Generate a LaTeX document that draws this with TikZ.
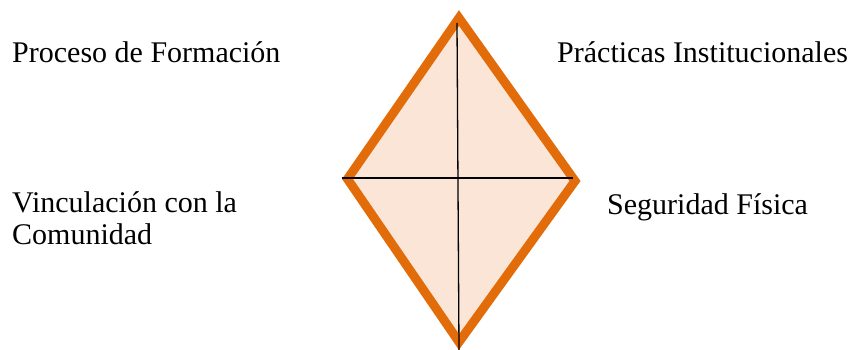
\documentclass[tikz,border=0pt]{standalone}
\usepackage{fontspec}
\setmainfont{Liberation Serif}
\usepackage{tikz}
\usetikzlibrary{positioning}
\definecolor{kiteorange}{HTML}{E36C0A}
\definecolor{kitepeach}{HTML}{FBE5D6}
\tikzset{
  labeltext/.style={anchor=base west, inner sep=0pt, align=left,
                    font=\fontsize{30}{32}\selectfont},
  kite/.style={draw=kiteorange, fill=kitepeach, line width=9pt, line join=miter},
  axis/.style={draw=black, line width=1.3pt}
}
\begin{document}
\begin{tikzpicture}[x=1pt, y=-1pt]
    \useasboundingbox (0,0) rectangle (848,350);

    % kite corners
    \coordinate (top) at (459,18);
    \coordinate (left) at (347.5,179);
    \coordinate (right) at (575,181);
    \coordinate (bottom) at (459,342);
    \filldraw[kite] (top) -- (right) -- (bottom) -- (left) -- cycle;

    % cross
    \coordinate (vtop) at (457,23);
    \coordinate (vbot) at (459,350);
    \coordinate (hleft) at (342,178);
    \coordinate (hright) at (573,178);
    \draw[axis] (vtop) -- (vbot);
    \draw[axis] (hleft) -- (hright);

    % labels
    \node[labeltext] (formacion) at (12,63) {Proceso de Formación};
    \node[labeltext] (practicas) at (557,63) {Prácticas Institucionales};
    \node[labeltext] (vinculacion) at (12,244) {Vinculación con la\\Comunidad};
    \node[labeltext] (seguridad) at (607,214) {Seguridad Física};
\end{tikzpicture}
\end{document}
